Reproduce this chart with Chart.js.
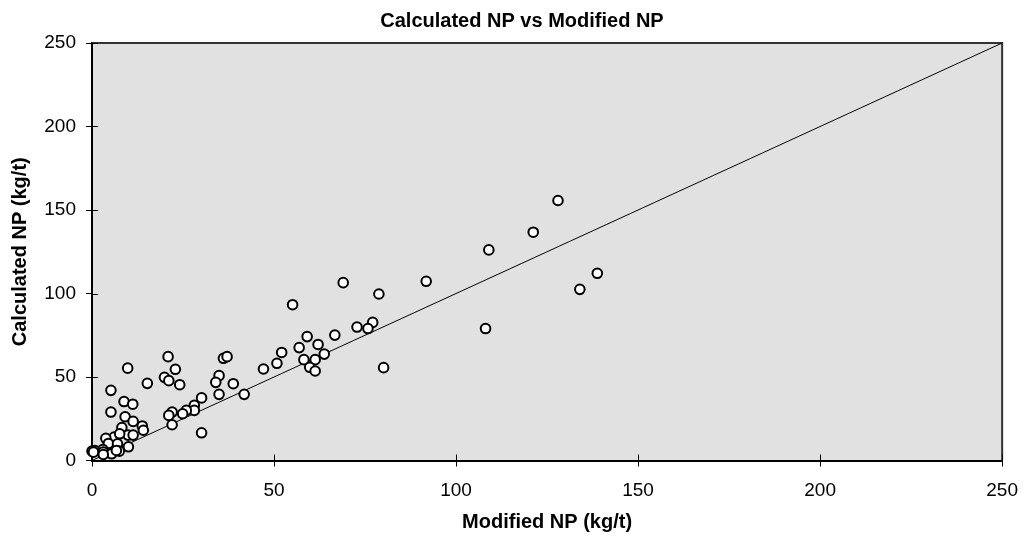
<!DOCTYPE html>
<html>
<head>
<meta charset="utf-8">
<script src="https://cdn.jsdelivr.net/npm/chart.js@4/dist/chart.umd.min.js"></script>
<style>
  html, body { margin: 0; padding: 0; background: #fff; }
  #wrap { width: 1031px; height: 540px; }
</style>
</head>
<body>
<div id="wrap"><canvas id="chart_np"></canvas></div>
<script>
// values
var modifiedNP = [
    128, 121.2, 109, 138.8, 134, 108.1, 91.8, 69, 78.8, 55.1,
    77.1, 75.8, 72.8, 66.7, 59.1, 62.1, 56.9, 52.1, 63.8, 50.8,
    58.2, 61.3, 59.8, 61.3, 80.1, 47.1, 36.1, 37.1, 34.9, 34,
    38.8, 34.9, 41.8, 30.1, 28.1, 28.1, 25.9, 24.9, 22, 21.1,
    22, 30.1, 20.9, 9.8, 22.9, 19.9, 21.1, 24.1, 15.2, 5.2,
    8.8, 11.2, 5.2, 9.1, 11.3, 13.8, 14.1, 8.2, 9.9, 11.3,
    6.1, 7.6, 3.8, 4.5, 7, 10, 0.8, 3, 3.1, 5.4,
    7.5, 0, 0.4, 6.7, 3.1
];
var calculatedNP = [
    155.7, 136.7, 126.1, 112.1, 102.5, 79, 107.3, 106.5, 99.7, 93.3,
    82.7, 79, 79.9, 75.1, 74.2, 69.5, 67.6, 64.7, 63.7, 58.2,
    60.4, 60.4, 55.8, 53.6, 55.6, 54.8, 61.2, 62.2, 50.8, 46.8,
    46, 39.6, 39.6, 37.5, 33, 30, 30, 28, 29, 27,
    21.4, 16.6, 62.2, 55.3, 54.6, 49.8, 47.8, 45.4, 46.2, 42,
    35.3, 33.7, 29, 26.2, 23.4, 20.7, 18.1, 19.7, 15.2, 15.2,
    14, 16, 13.3, 10.2, 10, 8.2, 6, 6.5, 5, 4,
    5.6, 5.6, 5, 6, 3.6
];
// 1:1 reference line
var lineX = [0, 250];
var lineY = [0, 250];
var axisMin = 0, axisMax = 250, axisStep = 50;
var chartTitle = 'Calculated NP vs Modified NP';

var fontFamily = '"Liberation Sans", Arial, Helvetica, sans-serif';

var scatterPoints = modifiedNP.map(function(x, i) { return { x: x, y: calculatedNP[i] }; });
var linePoints = lineX.map(function(x, i) { return { x: x, y: lineY[i] }; });

var chart_np = new Chart(document.getElementById('chart_np'), {
    type: 'scatter',
    data: {
        datasets: [
            {
                label: 'Samples',
                data: scatterPoints,
                backgroundColor: '#ffffff',
                borderColor: '#000000',
                borderWidth: 2,
                pointRadius: 4.8,
                clip: false,
                order: 1
            },
            {
                type: 'line',
                label: '1:1',
                data: linePoints,
                borderColor: '#000000',
                borderWidth: 1,
                pointRadius: 0,
                fill: false,
                order: 2
            }
        ]
    },
    options: {
        animation: false,
        responsive: true,
        maintainAspectRatio: false,
        layout: {
            padding: { top: 43, left: 8, right: 23, bottom: 0 }
        },
        plugins: {
            legend: { display: false },
            tooltip: { enabled: false },
            title: { display: false }
        },
        scales: {
            x: {
                type: 'linear',
                min: axisMin,
                max: axisMax,
                title: {
                    display: true,
                    text: 'Modified NP (kg/t)',
                    color: '#000',
                    font: { family: fontFamily, size: 20, weight: 'bold' },
                    padding: { top: 0, bottom: 6 }
                },
                ticks: {
                    stepSize: axisStep,
                    color: '#000',
                    padding: 13,
                    maxRotation: 0,
                    font: { family: fontFamily, size: 19 }
                },
                grid: {
                    drawOnChartArea: false,
                    drawTicks: true,
                    tickLength: 6,
                    color: '#000'
                },
                border: { display: true, color: '#000', width: 2 },
                afterFit: function(scale) { scale.height = 79.5; }
            },
            y: {
                type: 'linear',
                min: axisMin,
                max: axisMax,
                title: {
                    display: true,
                    text: 'Calculated NP (kg/t)',
                    color: '#000',
                    font: { family: fontFamily, size: 20, weight: 'bold' },
                    padding: { top: 0, bottom: 0 }
                },
                ticks: {
                    stepSize: axisStep,
                    color: '#000',
                    padding: 10,
                    font: { family: fontFamily, size: 19 }
                },
                grid: {
                    drawOnChartArea: false,
                    drawTicks: true,
                    tickLength: 6,
                    color: '#000'
                },
                border: { display: true, color: '#000', width: 2 },
                afterFit: function(scale) { scale.width = 84; }
            }
        }
    },
    plugins: [{
        id: 'plotFrame',
        beforeDraw: function(chart) {
            var ctx = chart.ctx;
            var a = chart.chartArea;
            ctx.save();
            ctx.fillStyle = '#ffffff';
            ctx.fillRect(0, 0, chart.width, chart.height);
            ctx.fillStyle = '#e1e1e1';
            ctx.fillRect(a.left, a.top, a.right - a.left, a.bottom - a.top);
            ctx.restore();
        },
        beforeDatasetsDraw: function(chart) {
            var ctx = chart.ctx;
            var a = chart.chartArea;
            ctx.save();
            // top and right edges of the plot frame
            ctx.strokeStyle = '#333333';
            ctx.lineWidth = 2;
            ctx.beginPath();
            ctx.moveTo(a.left, a.top);
            ctx.lineTo(a.right, a.top);
            ctx.lineTo(a.right, a.bottom);
            ctx.stroke();
            // inner halves of tick marks (ticks cross the axis)
            ctx.strokeStyle = '#000';
            ctx.lineWidth = 1;
            var xs = chart.scales.x, ys = chart.scales.y;
            xs.ticks.forEach(function(t) {
                var px = Math.round(xs.getPixelForValue(t.value)) + 0.5;
                ctx.beginPath();
                ctx.moveTo(px, a.bottom);
                ctx.lineTo(px, a.bottom - 6);
                ctx.stroke();
            });
            ys.ticks.forEach(function(t) {
                var py = Math.round(ys.getPixelForValue(t.value)) + 0.5;
                ctx.beginPath();
                ctx.moveTo(a.left, py);
                ctx.lineTo(a.left + 6, py);
                ctx.stroke();
            });
            ctx.restore();
        },
        afterDraw: function(chart) {
            // chart title, centred a little left of the plot area like the original
            var ctx = chart.ctx;
            ctx.save();
            ctx.fillStyle = '#000';
            ctx.font = 'bold 20px ' + fontFamily;
            ctx.textAlign = 'center';
            ctx.textBaseline = 'middle';
            ctx.fillText(chartTitle, 522, 21);
            ctx.restore();
        }
    }]
});
</script>
</body>
</html>
